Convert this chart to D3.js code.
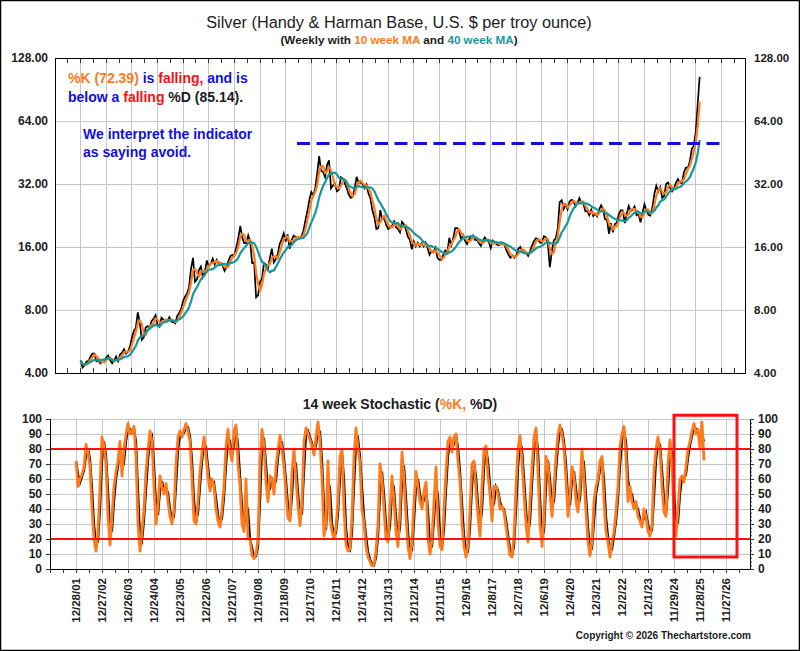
<!DOCTYPE html>
<html>
<head>
<meta charset="utf-8">
<title>Silver weekly with 14 week stochastic</title>
<script src="https://cdn.jsdelivr.net/npm/d3@7"></script>
<style>
    html, body { margin: 0; padding: 0; background: #fff; }
    svg { display: block; font-family: "Liberation Sans", Arial, sans-serif; }
</style>
</head>
<body>
<svg id="chart" width="800" height="651"></svg>
<script>
// both series are sampled every 4 weeks, week 0 = 12/28/01
const sampleWeeks = 4;

// Handy & Harman silver close, one row per chart year (13 samples)
const silverClose = [
    4.60, 4.25, 4.35, 4.55, 4.55, 4.80, 4.95, 4.95, 4.55, 4.60, 4.45, 4.55, 4.50,
    4.75, 4.85, 4.60, 4.45, 4.60, 4.80, 4.55, 4.90, 5.00, 5.20, 4.95, 5.05, 5.35,
    5.90, 6.35, 6.60, 7.80, 7.00, 5.75, 5.90, 6.60, 6.70, 6.55, 7.10, 7.25, 7.55,
    6.80, 6.65, 7.35, 7.20, 7.05, 7.10, 7.40, 7.05, 7.00, 6.90, 7.50, 7.75, 8.10,
    8.85, 9.30, 9.60, 10.30, 12.60, 14.20, 10.90, 11.20, 12.40, 12.90, 11.50, 12.20, 13.80,
    12.90, 13.30, 14.10, 13.20, 13.90, 13.30, 13.20, 13.10, 12.30, 12.80, 13.70, 14.50, 14.70,
    14.50, 16.00, 17.70, 20.20, 17.70, 16.70, 16.70, 18.20, 17.00, 13.40, 13.50, 9.20, 9.40,
    10.90, 11.30, 13.40, 13.20, 12.60, 14.20, 15.70, 13.50, 14.00, 14.80, 16.60, 17.40, 18.60,
    17.00, 18.40, 15.70, 17.20, 18.10, 17.90, 17.70, 17.60, 18.00, 19.10, 21.40, 23.70, 26.80,
    29.30, 28.20, 30.50, 36.00, 43.50, 37.00, 36.50, 34.50, 39.50, 41.50, 30.50, 31.50, 32.00,
    29.50, 30.00, 34.50, 34.00, 32.30, 30.50, 28.50, 27.50, 27.80, 30.50, 34.60, 32.50, 32.50,
    32.00, 30.50, 31.80, 28.80, 27.30, 23.90, 22.20, 19.50, 19.70, 24.00, 21.80, 21.90, 20.40,
    19.50, 19.80, 20.20, 21.20, 19.90, 19.50, 18.80, 21.10, 20.50, 19.40, 17.90, 17.30, 15.60,
    17.00, 16.10, 16.80, 16.10, 16.70, 16.10, 16.80, 15.80, 14.70, 15.30, 15.10, 15.90, 14.20,
    13.90, 13.90, 14.70, 15.40, 15.10, 17.70, 16.30, 17.60, 19.70, 19.70, 19.00, 17.40, 18.20,
    17.10, 16.50, 17.40, 17.90, 18.20, 17.30, 17.30, 16.70, 16.20, 17.10, 17.80, 17.20, 17.00,
    15.80, 17.20, 16.90, 16.50, 16.30, 16.50, 16.60, 16.40, 15.40, 14.70, 14.20, 14.60, 14.20,
    14.60, 15.70, 16.00, 15.10, 15.10, 15.00, 14.50, 15.30, 16.30, 17.10, 17.60, 17.50, 16.80,
    16.80, 18.00, 17.80, 16.60, 12.80, 15.20, 17.20, 17.60, 19.50, 26.20, 26.80, 24.30, 25.50,
    24.20, 26.40, 26.90, 26.60, 25.00, 26.00, 27.40, 25.90, 25.90, 23.70, 23.80, 22.70, 24.10,
    22.50, 23.10, 22.40, 24.10, 25.30, 24.20, 21.70, 21.60, 18.50, 20.80, 18.80, 20.60, 20.90,
    23.00, 24.00, 23.90, 20.80, 23.00, 25.10, 23.80, 24.10, 25.00, 22.70, 23.00, 21.00, 23.20,
    25.60, 24.00, 22.80, 22.60, 24.70, 28.60, 31.40, 29.50, 30.90, 27.50, 28.10, 32.10, 32.50,
    30.60, 29.50, 30.50, 32.50, 33.80, 32.50, 32.30, 36.30, 38.30, 38.20, 41.00, 47.00, 48.70,
    56.50, 77.00, 104.00
];

// 14 week stochastic %K, same sampling
const stochK = [
    72, 55, 60, 63, 68, 83, 78, 68, 40, 20, 12, 25, 55,
    88, 82, 70, 35, 16, 35, 55, 65, 72, 85, 62, 80, 90,
    97, 90, 92, 95, 75, 30, 12, 25, 40, 65, 80, 92, 85,
    55, 30, 42, 62, 55, 50, 57, 45, 35, 30, 40, 70, 88,
    92, 88, 93, 97, 92, 85, 60, 32, 30, 45, 65, 78, 88,
    75, 62, 52, 60, 55, 40, 32, 28, 40, 55, 82, 93, 78,
    72, 92, 96, 70, 55, 30, 25, 60, 20, 20, 9, 7, 10,
    20, 70, 93, 82, 58, 45, 62, 60, 50, 68, 80, 89, 80,
    68, 50, 34, 32, 65, 80, 60, 42, 29, 45, 85, 94, 90,
    86, 82, 76, 88, 98, 85, 60, 22, 30, 72, 35, 25, 20,
    28, 45, 75, 80, 40, 16, 12, 13, 35, 75, 94, 80, 70,
    40, 30, 15, 8, 5, 2, 3, 12, 30, 70, 60, 40, 20,
    18, 40, 62, 45, 25, 15, 40, 78, 60, 35, 15, 7, 18,
    45, 65, 55, 45, 40, 52, 58, 20, 10, 20, 45, 68, 30,
    15, 13, 40, 65, 85, 88, 78, 88, 90, 72, 58, 30, 15,
    8, 15, 40, 70, 72, 52, 35, 22, 55, 80, 82, 62, 50,
    32, 55, 55, 50, 40, 42, 38, 28, 18, 9, 8, 22, 55,
    80, 89, 72, 50, 30, 18, 45, 68, 88, 94, 65, 30, 15,
    35, 75, 70, 50, 35, 55, 75, 90, 96, 90, 80, 60, 35,
    50, 68, 62, 45, 38, 55, 80, 60, 38, 18, 9, 18, 45,
    55, 60, 72, 75, 45, 25, 18, 8, 18, 25, 38, 55, 82,
    90, 95, 75, 45, 55, 45, 40, 45, 35, 32, 28, 40, 35,
    25, 22, 30, 65, 80, 88, 78, 55, 38, 35, 70, 86, 70,
    35, 22, 40, 60, 62, 58, 68, 80, 85, 92, 97, 90, 93,
    80, 97.89, 72.39
];

// one label every 52 weeks
const yearTickLabels = [
    "12/28/01", "12/27/02", "12/26/03", "12/24/04", "12/23/05", "12/22/06", "12/21/07",
    "12/19/08", "12/18/09", "12/17/10", "12/16/11", "12/14/12", "12/13/13", "12/12/14",
    "12/11/15", "12/9/16", "12/8/17", "12/7/18", "12/6/19", "12/4/20", "12/3/21",
    "12/2/22", "12/1/23", "11/29/24", "11/28/25", "11/27/26"
];
const weekDomain = [-52, 1348];
const priceTicks = [4, 8, 16, 32, 64, 128];
const stochTicks = [0, 10, 20, 30, 40, 50, 60, 70, 80, 90, 100];
const stochBands = [20, 80];
const maWeeks = [10, 40];
const resistance = [{ from: 439, to: 1297, value: 50 }];
const highlightBox = [{ from: 1196, to: 1322, low: 8, high: 102.5 }];

(function() {
    const orange = '#ff7a1c', teal = '#16999a', blue = '#1010e0', red = '#ff1010';
    const ink = '#1c1c1c', grid = '#c6c6c6';

    const svg = d3.select('#chart');

    const top = { left: 55, right: 745, top: 58, bottom: 373 };
    const bot = { left: 50, right: 750, top: 419, bottom: 569 };

    const xTop = d3.scaleLinear().domain(weekDomain).range([top.left, top.right]);
    const xBot = d3.scaleLinear().domain(weekDomain).range([bot.left, bot.right]);
    const yTop = d3.scaleLog().base(2).domain([4, 128]).range([top.bottom, top.top]);
    const yBot = d3.scaleLinear().domain([0, 100]).range([bot.bottom, bot.top]);

    const weekOf = i => i * sampleWeeks;
    const yearWeeks = yearTickLabels.map((d, i) => i * 52);
    const halfYears = d3.range(weekDomain[0], weekDomain[1] + 1, 26);

    //rolling mean over the samples that fall inside the last n weeks
    const movingAvg = (values, n) => {
        let span = Math.ceil(n / sampleWeeks);
        return values.map((v, i) => d3.mean(values.slice(Math.max(0, i - span + 1), i + 1)));
    };
    const stochD = stochK.map((v, i) => i === 0 ? v : (v + stochK[i - 1]) / 2);

    svg.append('rect')
        .attr('x', 0.5).attr('y', 0.5).attr('width', 799).attr('height', 650)
        .attr('fill', '#fff').attr('stroke', '#000').attr('stroke-width', 1.5);

    const addText = (parent, x, y, parts, size, weight, anchor) => {
        let t = parent.append('text')
            .attr('x', x).attr('y', y)
            .attr('font-size', size).attr('font-weight', weight)
            .attr('text-anchor', anchor || 'start');
        parts.forEach(p => t.append('tspan').attr('fill', p[1]).text(p[0]));
        return t;
    };

    // titles
    addText(svg, 399, 28, [['Silver (Handy & Harman Base, U.S. $ per troy ounce)', ink]], 16.3, 'normal', 'middle');
    addText(svg, 399, 44, [
        ['(Weekly with ', ink], ['10 week MA', orange], [' and ', ink], ['40 week MA', teal], [')', ink]
    ], 11.7, 'bold', 'middle');

    // ---- price panel ----
    const gTop = svg.append('g');

    gTop.selectAll('.vgrid').data(yearWeeks).enter().append('line')
        .attr('x1', d => xTop(d)).attr('x2', d => xTop(d))
        .attr('y1', top.top).attr('y2', top.bottom)
        .attr('stroke', grid).attr('shape-rendering', 'crispEdges');

    gTop.selectAll('.hgrid').data(priceTicks).enter().append('line')
        .attr('x1', top.left).attr('x2', top.right)
        .attr('y1', d => yTop(d)).attr('y2', d => yTop(d))
        .attr('stroke', grid).attr('shape-rendering', 'crispEdges');

    [top.top, top.bottom].forEach((y, k) => {
        gTop.selectAll('.tick' + k).data(halfYears).enter().append('line')
            .attr('x1', d => xTop(d)).attr('x2', d => xTop(d))
            .attr('y1', y).attr('y2', k === 0 ? y + 5 : y - 5)
            .attr('stroke', '#333').attr('shape-rendering', 'crispEdges');
    });

    const priceLine = d3.line()
        .x((d, i) => xTop(weekOf(i)))
        .y(d => yTop(d));

    gTop.append('path').datum(silverClose)
        .attr('d', priceLine).attr('fill', 'none')
        .attr('stroke', '#000').attr('stroke-width', 1.7);

    [[maWeeks[0], orange], [maWeeks[1], teal]].forEach(m => {
        gTop.append('path').datum(movingAvg(silverClose, m[0]))
            .attr('d', priceLine).attr('fill', 'none')
            .attr('stroke', m[1]).attr('stroke-width', 2.2)
            .attr('stroke-linejoin', 'round');
    });

    gTop.selectAll('.resist').data(resistance).enter().append('line')
        .attr('x1', d => xTop(d.from)).attr('x2', d => xTop(d.to))
        .attr('y1', d => yTop(d.value)).attr('y2', d => yTop(d.value))
        .attr('stroke', blue).attr('stroke-width', 3)
        .attr('stroke-dasharray', '13,6.5');

    gTop.append('rect')
        .attr('x', top.left).attr('y', top.top)
        .attr('width', top.right - top.left).attr('height', top.bottom - top.top)
        .attr('fill', 'none').attr('stroke', '#000').attr('shape-rendering', 'crispEdges');

    const styleAxis = (g, size) => {
        g.select('.domain').remove();
        g.selectAll('text').attr('font-size', size).attr('font-weight', 'bold')
            .attr('fill', ink).attr('font-family', '"Liberation Sans", Arial, sans-serif');
        g.selectAll('line').attr('stroke', '#333');
    };

    gTop.append('g').attr('transform', `translate(${top.left},0)`)
        .call(d3.axisLeft(yTop).tickValues(priceTicks).tickFormat(d3.format('.2f')).tickSize(0).tickPadding(7))
        .call(g => styleAxis(g, 12));
    gTop.append('g').attr('transform', `translate(${top.right},0)`)
        .call(d3.axisRight(yTop).tickValues(priceTicks).tickFormat(d3.format('.2f')).tickSize(0).tickPadding(9))
        .call(g => styleAxis(g, 11.5));

    // commentary
    let lastK = stochK[stochK.length - 1], lastD = stochD[stochD.length - 1];
    let fmt = d3.format('.2f');
    addText(svg, 68, 83, [
        [`%K (${fmt(lastK)}) `, orange], ['is ', blue], ['falling, ', red], ['and is', blue]
    ], 14, 'bold');
    addText(svg, 68, 102, [
        ['below a ', blue], ['falling', red], [` %D (${fmt(lastD)}).`, ink]
    ], 14, 'bold');
    addText(svg, 83, 139, [['We interpret the indicator', blue]], 14, 'bold');
    addText(svg, 83, 157, [['as saying avoid.', blue]], 14, 'bold');

    // ---- stochastic panel ----
    const gBot = svg.append('g');

    addText(gBot, 400, 409, [
        ['14 week Stochastic (', ink], ['%K,', orange], [' %D)', ink]
    ], 14, 'bold', 'middle');

    gBot.selectAll('.vgrid').data(yearWeeks).enter().append('line')
        .attr('x1', d => xBot(d)).attr('x2', d => xBot(d))
        .attr('y1', bot.top).attr('y2', bot.bottom)
        .attr('stroke', grid).attr('shape-rendering', 'crispEdges');

    gBot.selectAll('.hgrid').data(stochTicks.slice(1)).enter().append('line')
        .attr('x1', bot.left).attr('x2', bot.right)
        .attr('y1', d => yBot(d)).attr('y2', d => yBot(d))
        .attr('stroke', grid).attr('shape-rendering', 'crispEdges');

    const stochLine = d3.line()
        .x((d, i) => xBot(weekOf(i)))
        .y(d => yBot(d));

    gBot.append('path').datum(stochD)
        .attr('d', stochLine).attr('fill', 'none')
        .attr('stroke', '#000').attr('stroke-width', 2.2);
    gBot.append('path').datum(stochK)
        .attr('d', stochLine).attr('fill', 'none')
        .attr('stroke', orange).attr('stroke-width', 2.8)
        .attr('stroke-linejoin', 'round');

    gBot.selectAll('.band').data(stochBands).enter().append('line')
        .attr('x1', bot.left).attr('x2', bot.right)
        .attr('y1', d => yBot(d)).attr('y2', d => yBot(d))
        .attr('stroke', red).attr('stroke-width', 2);

    gBot.selectAll('.box').data(highlightBox).enter().append('rect')
        .attr('x', d => xBot(d.from)).attr('y', d => yBot(d.high))
        .attr('width', d => xBot(d.to) - xBot(d.from))
        .attr('height', d => yBot(d.low) - yBot(d.high))
        .attr('fill', 'none').attr('stroke', red).attr('stroke-width', 3);

    // axis lines
    gBot.append('path')
        .attr('d', `M${bot.left},${bot.top}V${bot.bottom}H${bot.right}V${bot.top}`)
        .attr('fill', 'none').attr('stroke', '#000').attr('shape-rendering', 'crispEdges');

    gBot.append('g').attr('transform', `translate(${bot.left},0)`)
        .call(d3.axisLeft(yBot).tickValues(stochTicks).tickSize(4).tickPadding(4))
        .call(g => styleAxis(g, 12));
    gBot.append('g').attr('transform', `translate(${bot.right},0)`)
        .call(d3.axisRight(yBot).tickValues(stochTicks).tickSize(4).tickPadding(4))
        .call(g => styleAxis(g, 12));
    gBot.append('g').attr('transform', `translate(${bot.right},0)`)
        .call(d3.axisRight(yBot).tickValues(d3.range(0, 100, 2.5)).tickSize(2).tickFormat(''))
        .call(g => styleAxis(g, 12));

    gBot.append('g').attr('transform', `translate(0,${bot.bottom})`)
        .call(d3.axisBottom(xBot).tickValues(halfYears).tickSize(4).tickFormat(''))
        .call(g => styleAxis(g, 11));

    gBot.selectAll('.xlabel').data(yearTickLabels).enter().append('text')
        .attr('transform', (d, i) => `translate(${xBot(yearWeeks[i])},578) rotate(-90)`)
        .attr('dy', '0.35em')
        .attr('text-anchor', 'end')
        .attr('font-size', 11.5).attr('font-weight', 'bold').attr('fill', ink)
        .text(d => d);

    addText(svg, 751, 639, [['Copyright \u00a9 2026 Thechartstore.com', ink]], 10, 'bold', 'end');
})();
</script>
</body>
</html>
